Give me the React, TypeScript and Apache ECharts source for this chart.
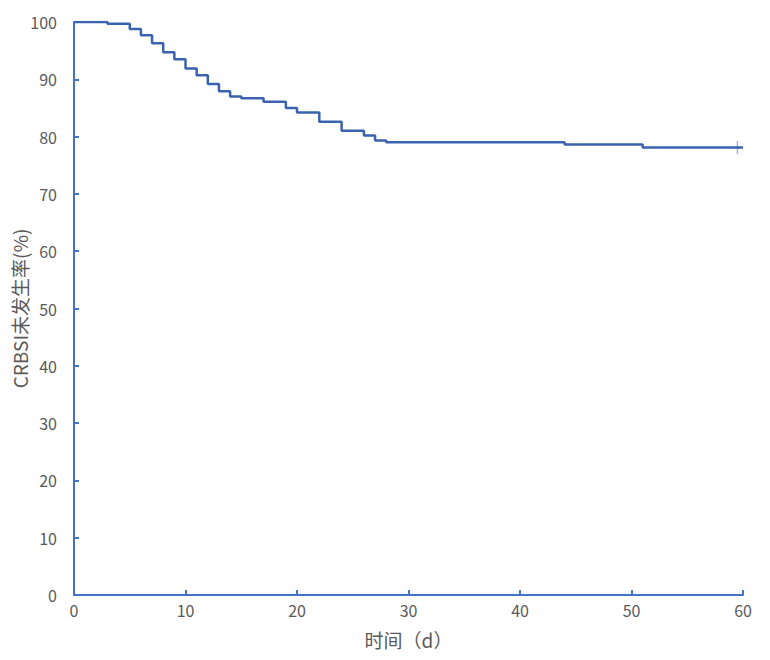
import React, { useEffect, useRef } from "react";
import * as echarts from "echarts";

const times = [0, 3, 5, 6, 7, 8, 9, 10, 11, 12, 13, 14, 15, 17, 19, 20, 22, 24, 26, 27, 28, 44, 51, 60];
const survival = [100, 99.7, 98.8, 97.7, 96.3, 94.7, 93.5, 91.9, 90.7, 89.2, 87.9, 87.0, 86.7, 86.1, 85.0, 84.2, 82.6, 81.0, 80.2, 79.3, 79.0, 78.6, 78.1, 78.1];
const censorTimes = [59.5];
const censorValues = [78.1];
const xName = "时间（d）";
const yName = "CRBSI未发生率(%)";

export default function App() {
  const ref = useRef<HTMLDivElement>(null);
  useEffect(() => {
    if (!ref.current) return;
    const chart = echarts.init(ref.current, undefined, { renderer: "svg" });
    const font = "'Noto Sans CJK SC', 'Noto Sans', sans-serif";
    const axisColor = "#4472C4";
    const labelColor = "#595959";
    chart.setOption({
      animation: false,
      grid: { left: 66, right: 19, top: 14, bottom: 57, containLabel: false, outerBoundsMode: "none" },
      xAxis: {
        type: "value",
        min: 0,
        max: 60,
        interval: 10,
        name: xName,
        nameLocation: "middle",
        nameGap: 35,
        nameMoveOverlap: false,
        nameTextStyle: { color: labelColor, fontSize: 19, fontFamily: font },
        axisLine: { show: true, lineStyle: { color: axisColor, width: 2 } },
        axisTick: { show: true, inside: true, length: 5, lineStyle: { color: axisColor, width: 2 } },
        axisLabel: { color: labelColor, fontSize: 16, fontFamily: font, margin: 7 },
        splitLine: { show: false },
      },
      yAxis: {
        type: "value",
        min: 0,
        max: 100,
        interval: 10,
        name: yName,
        nameLocation: "middle",
        nameGap: 45,
        nameMoveOverlap: false,
        nameTextStyle: { color: labelColor, fontSize: 19, lineHeight: 20, fontFamily: font },
        axisLine: { show: true, lineStyle: { color: axisColor, width: 2 } },
        axisTick: { show: true, inside: true, length: 5, lineStyle: { color: axisColor, width: 2 } },
        axisLabel: { color: labelColor, fontSize: 16, fontFamily: font, margin: 17 },
        splitLine: { show: false },
      },
      series: [
        {
          type: "line",
          step: "end",
          showSymbol: false,
          symbol: "none",
          data: times.map((t, i) => [t, survival[i]]),
          lineStyle: { color: "#3A62AE", width: 2.5 },
          itemStyle: { color: "#3A62AE" },
        },
        {
          type: "scatter",
          symbol: "path://M3.3,0h1.4v12h-1.4zM0,5.3h8v1.4h-8z",
          symbolSize: [8, 13],
          data: censorTimes.map((t, i) => [t, censorValues[i]]),
          itemStyle: { color: "#7F9BD3" },
        },
      ],
    });
    return () => chart.dispose();
  }, []);
  return <div ref={ref} style={{ width: 754, height: 644 }} />;
}
